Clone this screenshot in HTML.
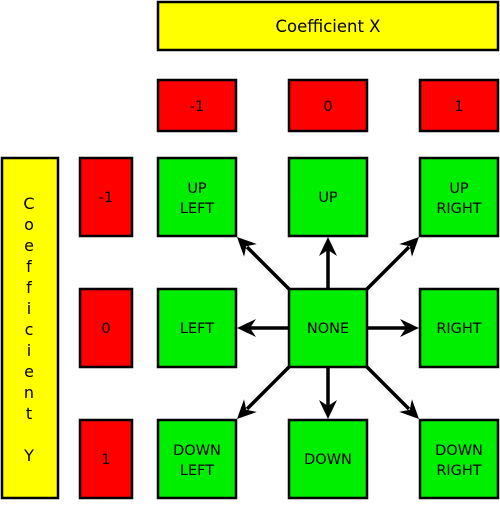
<!DOCTYPE html>
<html><head><style>body{margin:0;background:#fff} text{font-family:"DejaVu Sans","Liberation Sans",sans-serif;font-size:14.5px} .b{font-size:16.5px} .v{font-size:16px}</style></head><body>
<svg width="500" height="500" xmlns="http://www.w3.org/2000/svg">
<g stroke="#000" stroke-width="2.5">
<rect x="158" y="2" width="340" height="48" fill="#ffff00"/>
<rect x="2" y="158" width="56" height="340" fill="#ffff00"/>
<rect x="158" y="80" width="78" height="51" fill="#ff0000"/>
<rect x="289" y="80" width="78" height="51" fill="#ff0000"/>
<rect x="420" y="80" width="78" height="51" fill="#ff0000"/>
<rect x="80" y="158" width="52" height="78" fill="#ff0000"/>
<rect x="80" y="289" width="52" height="78" fill="#ff0000"/>
<rect x="80" y="420" width="52" height="78" fill="#ff0000"/>
<g fill="#00ee00">
<rect x="158" y="158" width="78" height="78"/><rect x="289" y="158" width="78" height="78"/><rect x="420" y="158" width="78" height="78"/>
<rect x="158" y="289" width="78" height="78"/><rect x="289" y="289" width="78" height="78"/><rect x="420" y="289" width="78" height="78"/>
<rect x="158" y="420" width="78" height="78"/><rect x="289" y="420" width="78" height="78"/><rect x="420" y="420" width="78" height="78"/>
</g>
</g>
<g stroke="#000" stroke-width="3.5" fill="none">
<line x1="328" y1="289" x2="328" y2="250"/>
<line x1="328" y1="367" x2="328" y2="406"/>
<line x1="289" y1="328" x2="250" y2="328"/>
<line x1="367" y1="328" x2="406" y2="328"/>
<line x1="289" y1="289" x2="247" y2="247"/>
<line x1="367" y1="289" x2="409" y2="247"/>
<line x1="289" y1="367" x2="247" y2="409"/>
<line x1="367" y1="367" x2="409" y2="409"/>
</g>
<g fill="#000">
<path d="M0,0 L-19,-9 L-13,0 L-19,9 Z" transform="translate(328,237) rotate(-90)"/>
<path d="M0,0 L-19,-9 L-13,0 L-19,9 Z" transform="translate(328,419) rotate(90)"/>
<path d="M0,0 L-19,-9 L-13,0 L-19,9 Z" transform="translate(237,328) rotate(180)"/>
<path d="M0,0 L-19,-9 L-13,0 L-19,9 Z" transform="translate(419,328)"/>
<path d="M0,0 L-19,-9 L-13,0 L-19,9 Z" transform="translate(237,237) rotate(-135)"/>
<path d="M0,0 L-19,-9 L-13,0 L-19,9 Z" transform="translate(419,237) rotate(-45)"/>
<path d="M0,0 L-19,-9 L-13,0 L-19,9 Z" transform="translate(237,419) rotate(135)"/>
<path d="M0,0 L-19,-9 L-13,0 L-19,9 Z" transform="translate(419,419) rotate(45)"/>
</g>
<g text-anchor="middle" fill="#000">
<text class="b" x="328" y="32">Coefficient X</text>
<text x="197" y="111">-1</text><text x="328" y="111">0</text><text x="459" y="111">1</text>
<text x="106" y="202">-1</text><text x="106" y="333">0</text><text x="106" y="464">1</text>
<text x="197" y="193">UP</text><text x="197" y="213">LEFT</text>
<text x="328" y="202">UP</text>
<text x="459" y="193">UP</text><text x="459" y="213">RIGHT</text>
<text x="197" y="333">LEFT</text><text x="328" y="333">NONE</text><text x="459" y="333">RIGHT</text>
<text x="197" y="455">DOWN</text><text x="197" y="475">LEFT</text>
<text x="328" y="464">DOWN</text>
<text x="459" y="455">DOWN</text><text x="459" y="475">RIGHT</text>
<text class="v" x="29" y="209">C</text>
<text class="v" x="29" y="230">o</text>
<text class="v" x="29" y="251">e</text>
<text class="v" x="29" y="272">f</text>
<text class="v" x="29" y="293">f</text>
<text class="v" x="29" y="314">i</text>
<text class="v" x="29" y="335">c</text>
<text class="v" x="29" y="356">i</text>
<text class="v" x="29" y="377">e</text>
<text class="v" x="29" y="398">n</text>
<text class="v" x="29" y="419">t</text>
<text class="v" x="29" y="461">Y</text>
</g>
</svg>
</body></html>
